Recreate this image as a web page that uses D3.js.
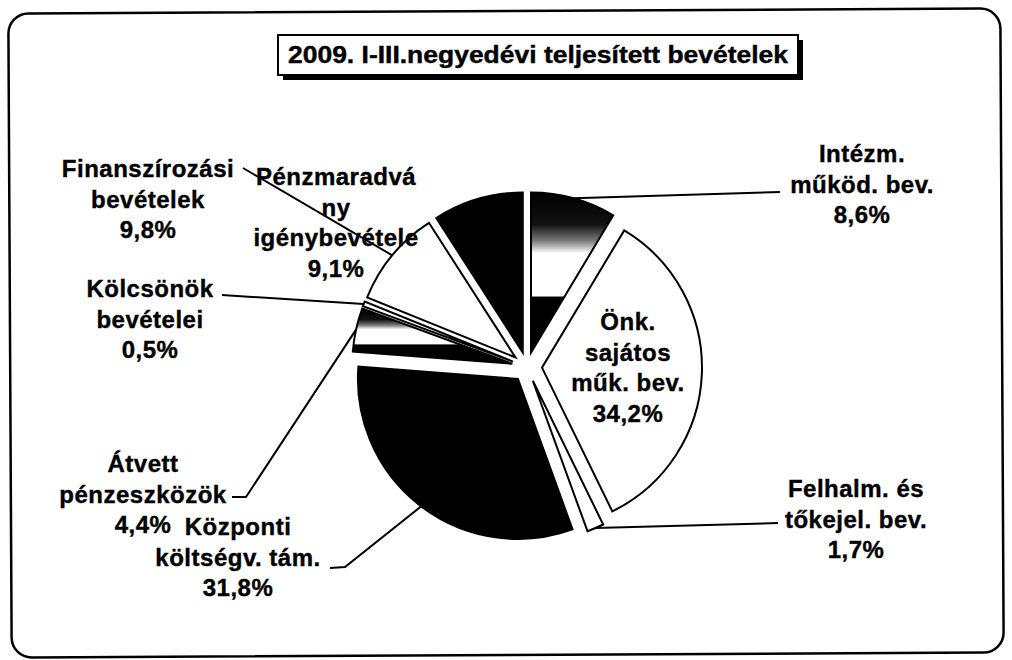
<!DOCTYPE html>
<html><head><meta charset="utf-8">
<script src="https://cdn.jsdelivr.net/npm/d3@7"></script>
<style>
body{margin:0;background:#fff}
text{font-family:"Liberation Sans",Arial,Helvetica,sans-serif;font-weight:bold;fill:#000}
</style>
</head><body>
<svg id="c" width="1012" height="660"></svg>
<script>
// ---- data ----
const title = "2009. I-III.negyedévi teljesített bevételek";
const categories = ["Intézm. működ. bev.", "Önk. sajátos műk. bev.", "Felhalm. és tőkejel. bev.",
  "Központi költségv. tám.", "Átvett pénzeszközök", "Kölcsönök bevételei",
  "Finanszírozási bevételek", "Pénzmaradvány igénybevétele"];
const labelLines = [["Intézm.", "működ. bev."], ["Önk.", "sajátos", "műk. bev."], ["Felhalm. és", "tőkejel. bev."],
  ["Központi", "költségv. tám."], ["Átvett", "pénzeszközök"], ["Kölcsönök", "bevételei"],
  ["Finanszírozási", "bevételek"], ["Pénzmaradvá", "ny", "igénybevétele"]];
const values = [8.6, 34.2, 1.7, 31.8, 4.4, 0.5, 9.8, 9.1];
const fillKinds = ["grad", "white", "white", "black", "grad", "white", "white", "black"];

// ---- layout ----
const W = 1012, H = 660;
const cx = 527, cy = 367, R = 160, EXPLODE = 15, LH = 30.5;
const labelPos = [
  {x: 862, y: 162}, {x: 628, y: 330}, {x: 856, y: 497}, {x: 238, y: 535},
  {x: 143, y: 472}, {x: 150, y: 297}, {x: 148, y: 177}, {x: 336, y: 185}
];
const leaderEnds = [
  [[780, 192]], null, [[778, 523]], [[345, 567], [330, 568]],
  [[246, 497], [232, 497]], [[222, 295]], [[243, 168]], null
];

const svg = d3.select("#c");
const defs = svg.append("defs");
const grad = defs.append("linearGradient").attr("id", "pat")
  .attr("x1", 0).attr("y1", 0).attr("x2", 0).attr("y2", 1);
[[0, "#000"], [0.2, "#111"], [0.3, "#777"], [0.38, "#fff"], [0.645, "#fff"], [0.655, "#000"], [1, "#000"]]
  .forEach(([o, c]) => grad.append("stop").attr("offset", o).attr("stop-color", c));

// outer frame
svg.append("rect").attr("x", 10).attr("y", 11).attr("width", 992).attr("height", 644)
  .attr("rx", 20).attr("fill", "none").attr("stroke", "#000").attr("stroke-width", 2.5)
  .attr("transform", "rotate(-0.3 506 330)");

// title box with shadow
const tb = {x: 278, y: 35, w: 520, h: 40};
svg.append("rect").attr("x", tb.x + 5).attr("y", tb.y + 5).attr("width", tb.w).attr("height", tb.h).attr("fill", "#000");
svg.append("rect").attr("x", tb.x).attr("y", tb.y).attr("width", tb.w).attr("height", tb.h)
  .attr("fill", "#fff").attr("stroke", "#000").attr("stroke-width", 2);
svg.append("text").attr("x", tb.x + 10).attr("y", 63).attr("font-size", 23)
  .attr("stroke", "#000").attr("stroke-width", 0.4)
  .attr("textLength", 500).attr("lengthAdjust", "spacingAndGlyphs").text(title);

// pie
const pie = d3.pie().sort(null).value(d => d)(values);
const arc = d3.arc().innerRadius(0).outerRadius(R);
const off = d => { const m = (d.startAngle + d.endAngle) / 2; return [Math.sin(m) * EXPLODE, -Math.cos(m) * EXPLODE]; };
const fillOf = k => k === "grad" ? "url(#pat)" : (k === "black" ? "#000" : "#fff");

const g = svg.append("g").attr("transform", `translate(${cx},${cy})`);
g.selectAll("path.slice").data(pie).join("path").attr("class", "slice")
  .attr("transform", d => `translate(${off(d)})`)
  .attr("d", arc)
  .attr("fill", (d, i) => fillOf(fillKinds[i]))
  .attr("stroke", "#000").attr("stroke-width", 2).attr("stroke-linejoin", "miter");

// leader lines
pie.forEach((d, i) => {
  if (!leaderEnds[i]) return;
  const m = (d.startAngle + d.endAngle) / 2;
  const o = off(d);
  const start = [cx + o[0] + Math.sin(m) * R, cy + o[1] - Math.cos(m) * R];
  const pts = [start, ...leaderEnds[i]];
  svg.append("path").attr("d", d3.line()(pts)).attr("fill", "none")
    .attr("stroke", "#000").attr("stroke-width", 2);
});

// labels
const fmt = v => d3.format(".1f")(v).replace(".", ",") + "%";
pie.forEach((d, i) => {
  const lines = [...labelLines[i], fmt(values[i])];
  const t = svg.append("text").attr("text-anchor", "middle").attr("font-size", 24)
    .attr("letter-spacing", 0.5).attr("stroke", "#000").attr("stroke-width", 0.4);
  lines.forEach((s, k) => t.append("tspan").attr("x", labelPos[i].x).attr("y", labelPos[i].y + k * LH).text(s));
});
</script>
</body></html>
